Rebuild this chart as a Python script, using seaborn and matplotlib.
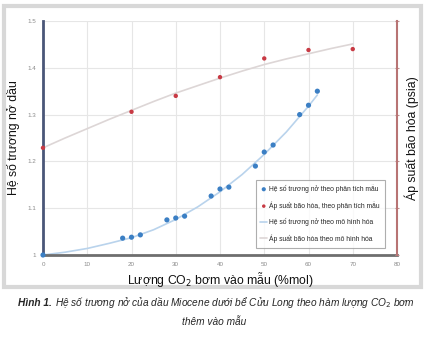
import numpy as np
import pandas as pd
import matplotlib
matplotlib.use("Agg")
import matplotlib.pyplot as plt
from matplotlib.patches import Rectangle
import seaborn as sns

# ---- data ----
co2_lab = [0, 18, 20, 22, 28, 30, 32, 38, 40, 42, 48, 50, 52, 58, 60, 62]
swell_lab = [1.0, 1.036, 1.038, 1.043, 1.075, 1.079, 1.083, 1.126, 1.141, 1.145,
             1.19, 1.22, 1.235, 1.30, 1.32, 1.35]
co2_psat = [0, 20, 30, 40, 50, 60, 70]
psat_lab = [1.229, 1.306, 1.34, 1.38, 1.42, 1.438, 1.44]
co2_model_sw = [0, 5, 10, 15, 20, 25, 30, 35, 40, 45, 50, 55, 60, 62]
swell_model = [1.0, 1.006, 1.014, 1.025, 1.037, 1.054, 1.076, 1.103, 1.135,
               1.172, 1.215, 1.263, 1.318, 1.342]
co2_model_ps = [0, 5, 10, 15, 20, 25, 30, 35, 40, 45, 50, 55, 60, 65, 70]
psat_model = [1.229, 1.250, 1.270, 1.290, 1.309, 1.328, 1.346, 1.362, 1.378,
              1.393, 1.407, 1.419, 1.430, 1.441, 1.451]
x_ticks = [0, 10, 20, 30, 40, 50, 60, 70, 80]
y_ticks = [1.0, 1.1, 1.2, 1.3, 1.4, 1.5]
y_tick_labels = ["1", "1.1", "1.2", "1.3", "1.4", "1.5"]

sns.set_style("whitegrid")
plt.rcParams['font.family'] = ['Liberation Sans', 'DejaVu Sans']

fig = plt.figure(figsize=(4.29, 3.40), dpi=100)
ax = fig.add_axes([43/429, 1-255/340, (397-43)/429, (255-21)/340])

df_ms = pd.DataFrame({"x": co2_model_sw, "y": swell_model})
df_mp = pd.DataFrame({"x": co2_model_ps, "y": psat_model})
df_ls = pd.DataFrame({"x": co2_lab, "y": swell_lab})
df_lp = pd.DataFrame({"x": co2_psat, "y": psat_lab})

sns.lineplot(data=df_ms, x="x", y="y", ax=ax, color="#b9d3ec", lw=1.2,
             label="Hệ số trương nở theo mô hình hóa", legend=False, clip_on=False)
sns.lineplot(data=df_mp, x="x", y="y", ax=ax, color="#ddd6d6", lw=1.2,
             label="Áp suất bão hòa theo mô hình hóa", legend=False, clip_on=False)
sns.scatterplot(data=df_ls, x="x", y="y", ax=ax, color="#3b7fc4", s=14,
                edgecolor="none", label="Hệ số trương nở theo phân tích mẫu",
                legend=False, clip_on=False, zorder=5)
sns.scatterplot(data=df_lp, x="x", y="y", ax=ax, color="#c83a44", s=10,
                edgecolor="none", label="Áp suất bão hòa, theo phân tích mẫu",
                legend=False, clip_on=False, zorder=5)

ax.set_xlim(0, 80)
ax.set_ylim(1.0, 1.5)
ax.set_xticks(x_ticks)
ax.set_xticklabels([str(v) for v in x_ticks])
ax.set_yticks(y_ticks)
ax.set_yticklabels(y_tick_labels)
ax.tick_params(axis="both", labelsize=4.5, labelcolor="#8a8a8a", length=0, pad=5)
ax.grid(True, color="#e6e6e6", lw=0.8)
ax.spines["top"].set_visible(False)
ax.spines["left"].set_color("#4a5678")
ax.spines["left"].set_linewidth(2)
ax.spines["bottom"].set_color("#6e6e6e")
ax.spines["bottom"].set_linewidth(2)
ax.spines["right"].set_visible(False)

ax.set_xlabel("Lượng CO$_2$ bơm vào mẫu (%mol)", fontsize=8.8, labelpad=2, color="#111111")
ax.set_ylabel("Hệ số trương nở dầu", fontsize=8.8, labelpad=5, color="#111111")

ax2 = ax.twinx()
ax2.set_ylim(1.0, 1.5)
ax2.set_yticks(y_ticks)
ax2.set_yticklabels([""] * len(y_ticks))
ax2.grid(False)
for s in ["top", "left", "bottom"]:
    ax2.spines[s].set_visible(False)
ax2.spines["right"].set_visible(True)
ax2.spines["right"].set_color("#b87474")
ax2.spines["right"].set_linewidth(1.5)
ax2.tick_params(axis="y", right=True, length=3, width=0.8, color="#c09090",
                direction="inout", pad=0)
ax2.set_ylabel("Áp suất bão hòa (psia)", fontsize=8.8, labelpad=4, color="#111111")

h1, l1 = ax.get_legend_handles_labels()
order = [2, 3, 0, 1]
leg = ax2.legend([h1[i] for i in order], [l1[i] for i in order],
                 loc="lower right", bbox_to_anchor=(388/429, 1-251/340),
                 bbox_transform=fig.transFigure,
                 prop={"family": ["Liberation Sans", "DejaVu Sans"], "size": 4.9},
                 frameon=True, fancybox=False, edgecolor="#9a9a9a",
                 handlelength=1.0, handletextpad=0.3, labelspacing=1.2,
                 borderpad=0.7, markerscale=0.8)
leg.get_frame().set_linewidth(0.8)

fig.patches.append(Rectangle((4/429, 1-287/340), (421-4)/429, (287-6)/340,
                             transform=fig.transFigure, fill=False,
                             edgecolor="#d8d8d8", lw=3, zorder=-1))

cap_font = ["Liberation Sans", "DejaVu Sans"]
fig.canvas.draw()
renderer = fig.canvas.get_renderer()
y1 = 1 - 303/340
t1 = fig.text(18/429, y1, "Hình 1.", fontsize=7.3, fontweight="bold",
              fontstyle="italic", family=cap_font, va="center", ha="left")
bb = t1.get_window_extent(renderer=renderer)
x_next = (bb.x1 + 3) / fig.bbox.width
fig.text(x_next, y1,
         "Hệ số trương nở của dầu Miocene dưới bể Cửu Long theo hàm lượng CO$_2$ bơm",
         fontsize=7.3, fontstyle="italic", family=cap_font, va="center", ha="left")
fig.text(0.5, 1-322/340, "thêm vào mẫu", fontsize=7.3, fontstyle="italic",
         family=cap_font, va="center", ha="center")

fig.savefig("out.png", dpi=100)
